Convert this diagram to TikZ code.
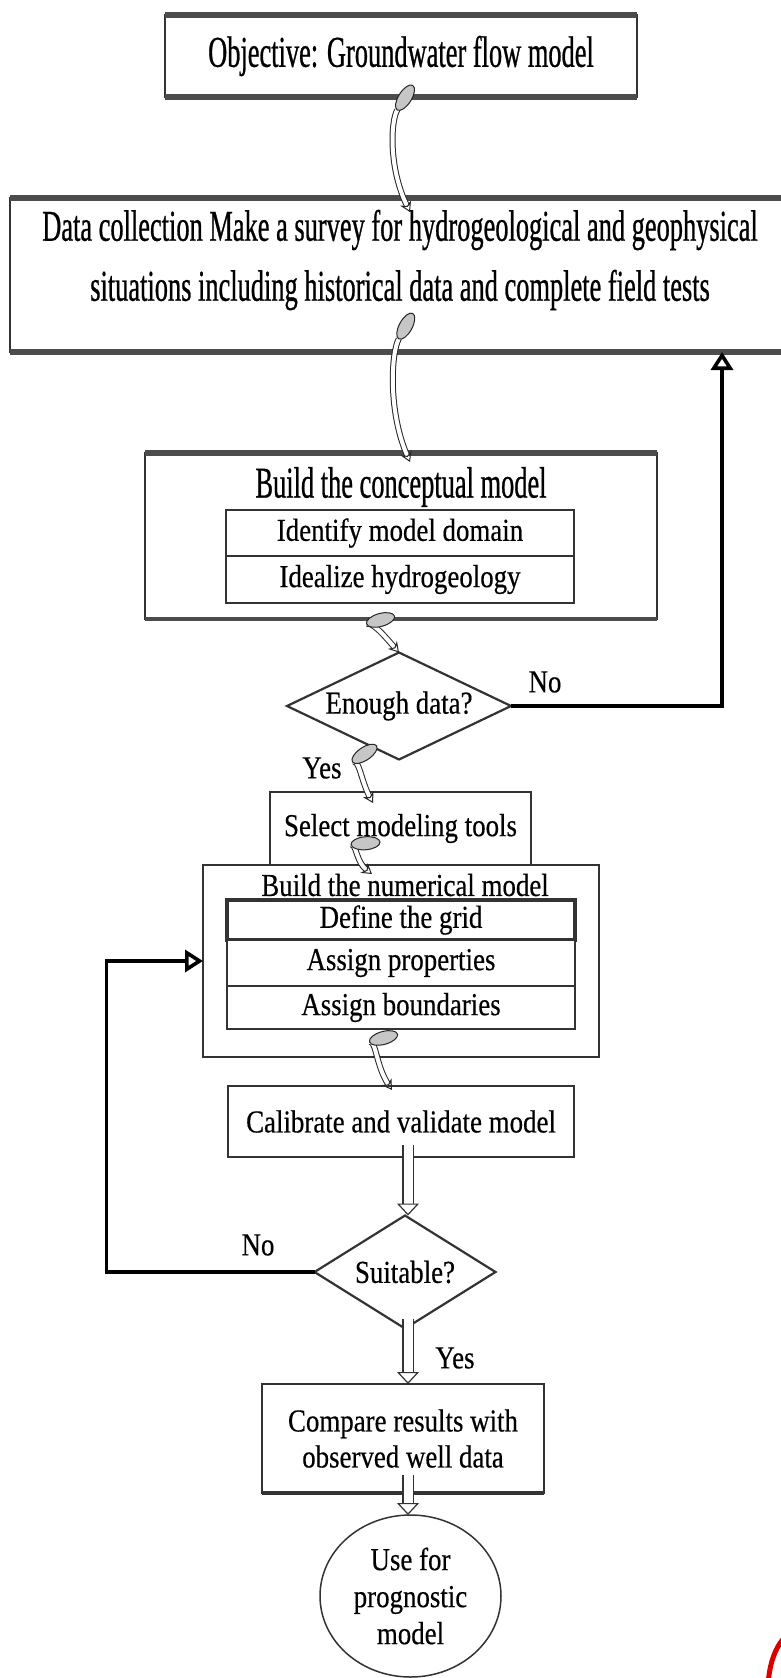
\documentclass[tikz,border=0pt]{standalone}
\usepackage{fontspec}
\setmainfont{Liberation Serif}
\newfontfamily\tallfont{Liberation Serif}[FakeStretch=0.6, FakeBold=0.6]
\newfontfamily\flowfont{Liberation Serif}[FakeStretch=0.84, FakeBold=0.4]
\usetikzlibrary{shapes.geometric, arrows.meta}

\begin{document}
\begin{tikzpicture}[x=1pt, y=-1pt,
  box/.style={draw=black!80, line width=1.6pt, fill=white, inner sep=0pt, outer sep=0pt,
    align=center, font=\flowfont\fontsize{32}{36}\selectfont},
  rim/.style={draw=black!70, line width=6pt},
  inbox/.style={box, line width=2.4pt, minimum width=348pt},
  decide/.style={box, diamond, line width=2.2pt},
  curvy/.style={draw=black!85, line width=1pt, double=white, double distance=4pt,
    {Ellipse[fill=gray!45, length=30pt, width=14pt, line width=1pt]}-{Stealth[open, length=10pt, width=12pt, line width=1pt]}},
  hollow/.style={draw=black!80, line width=1.2pt, double=white, double distance=9pt,
    -{Triangle[open, length=12pt, width=22pt, line width=1.2pt]}},
  loopback/.style={draw=black, line width=3.6pt,
    -{Triangle[open, length=18pt, width=22pt, line width=3.6pt]}},
  lbl/.style={inner sep=0pt, font=\flowfont\fontsize{32}{36}\selectfont},
  tall/.style={inner sep=0pt, align=center, font=\tallfont\fontsize{44}{60}\selectfont}]
  \useasboundingbox (0,0) rectangle (781,1678);
  \clip (0,0) rectangle (781,1678);
  % objective and survey
  \node[box, minimum width=472pt, minimum height=82pt, font=\tallfont\fontsize{44}{60}\selectfont]
    (goal) at (401,56) {Objective: Groundwater flow model};
  \draw[rim] (goal.north west) -- (goal.north east);
  \draw[rim] (goal.south west) -- (goal.south east);
  \node[box, minimum width=790pt, minimum height=154pt] (survey) at (405,275) {};
  \draw[rim] (survey.north west) -- (survey.north east);
  \draw[rim] (survey.south west) -- (survey.south east);
  \node[tall] (surveytxt) at (400,260)
    {Data collection Make a survey for hydrogeological and geophysical\\
     situations including historical data and complete field tests};
  % conceptual model
  \node[box, minimum width=512pt, minimum height=166pt] (concept) at (401,536) {};
  \draw[rim] (concept.north west) -- (concept.north east);
  \draw[rim, line width=3.6pt] (concept.south west) -- (concept.south east);
  \node[tall] (concepttitle) at (401,487) {Build the conceptual model};
  \foreach \n/\y/\h/\t in {domain/533/46/Identify model domain,
                           ideal/579.5/47/Idealize hydrogeology}{
    \node[inbox, minimum height=\h pt] (\n) at (400,\y) {\t};
  }
  \node[decide, minimum width=224pt, minimum height=107pt, aspect=2.1]
    (enough) at (399,706) {Enough data?};
  \node[lbl] (no1) at (545,682) {No};
  \node[lbl] (yes1) at (322,768) {Yes};
  % numerical model
  \node[box, minimum width=261pt, minimum height=73pt] (tools) at (400.5,828.5) {Select modeling tools};
  \node[box, minimum width=396pt, minimum height=192pt] (numeric) at (401,961) {};
  \node[lbl] (numtitle) at (405,885) {Build the numerical model};
  \node[inbox, minimum height=40pt, line width=4pt] (grid) at (401,920) {Define the grid};
  \foreach \n/\y/\h/\t in {props/963/46/Assign properties,
                           bounds/1007.5/43/Assign boundaries}{
    \node[inbox, minimum height=\h pt] (\n) at (401,\y) {\t};
  }
  \node[box, minimum width=346pt, minimum height=71pt, line width=2pt] (calib) at (401,1121.5) {Calibrate and validate model};
  \node[decide, minimum width=181pt, minimum height=113pt, aspect=1.6]
    (suit) at (405,1272) {Suitable?};
  \node[lbl] (no2) at (258,1245) {No};
  \node[lbl] (yes2) at (455,1358) {Yes};
  \node[box, minimum width=282pt, minimum height=109pt, line width=2pt] (cmp) at (403,1438.5)
    {Compare results with\\observed well data};
  \draw[draw=black!80, line width=3.4pt] (cmp.south west) -- (cmp.south east);
  \node[box, ellipse, minimum width=181pt, minimum height=162pt, line width=1.5pt] (use) at (410.5,1596)
    {Use for\\[1pt]prognostic\\[1pt]model};
  % curved connectors
  \draw[curvy] ([shift={(12,-12)}]goal.south) .. controls +(-22,35) and +(-22,-45) .. ([shift={(5,14)}]survey.north);
  \draw[curvy] ([shift={(8,-39)}]survey.south) .. controls +(-22,40) and +(-22,-50) .. ([shift={(9,9)}]concept.north);
  \draw[curvy] ([shift={(-6,-3)}]concept.south) .. controls +(-22,6) and +(-14,-16) .. (enough.north);
  \draw[curvy] ([shift={(-22,-14)}]enough.south) .. controls +(-18,12) and +(-12,-22) .. ([shift={(-27.5,11)}]tools.north);
  \draw[curvy] ([shift={(-20,-23)}]tools.south) .. controls +(-24,2) and +(-16,-12) .. ([shift={(-29,9)}]numeric.north);
  \draw[curvy] ([shift={(-3,-23)}]numeric.south) .. controls +(-22,6) and +(-16,-24) .. ([shift={(-9,4)}]calib.north);
  % straight connectors
  \draw[hollow] ([shift={(7,-12)}]calib.south) -- ([xshift=3pt]suit.north);
  \draw[hollow] ([shift={(3,-10)}]suit.south) -- ([xshift=5pt]cmp.north);
  \draw[hollow] ([shift={(5,-18)}]cmp.south) -- ([xshift=-2.5pt]use.north);
  % loops back
  \coordinate (backin) at (722,352);
  \draw[loopback] (enough.east) -| (backin);
  \draw[loopback] (suit.west) -- ++(-208,0) |- (numeric.west);
  % corner mark
  \draw[red!85!black, line width=5pt] (800,1690) ellipse (32 and 60);
\end{tikzpicture}
\end{document}
